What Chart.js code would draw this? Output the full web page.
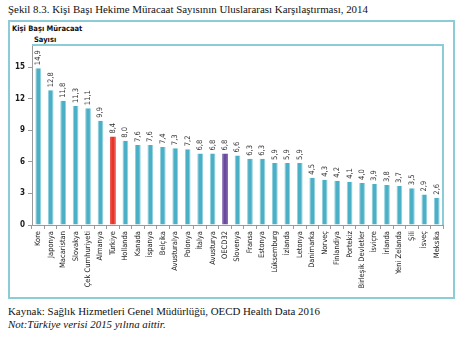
<!DOCTYPE html>
<html lang="tr">
<head>
<meta charset="UTF-8">
<title>Kişi Başı Hekime Müracaat Sayısı</title>
<script src="https://cdn.jsdelivr.net/npm/chart.js"></script>
<style>
    body { margin: 0; background: #fff; width: 464px; height: 337px; position: relative; overflow: hidden; }
    .caption { position: absolute; left: 8px; font-family: "Liberation Serif", serif; font-size: 10.9px; color: #111; white-space: nowrap; }
    .frame { position: absolute; left: 8px; top: 20px; width: 443px; height: 275px; border: 2px solid #8ccbd8; }
    .axis-title { position: absolute; font-family: "DejaVu Sans Condensed", "Liberation Sans", sans-serif; font-size: 7.5px; font-weight: bold; color: #111; white-space: nowrap; }
    #chart-box { position: absolute; left: 8px; top: 20px; width: 446px; height: 278px; }
</style>
</head>
<body>

<div class="caption" style="top: 3px;">Şekil 8.3. Kişi Başı Hekime Müracaat Sayısının Uluslararası Karşılaştırması, 2014</div>
<div class="frame"></div>
<div class="axis-title" style="left: 12px; top: 24px;">Kişi Başı Müracaat</div>
<div class="axis-title" style="left: 34px; top: 35px;">Sayısı</div>

<div id="chart-box"><canvas id="visits"></canvas></div>

<div class="caption" style="top: 305px;">Kaynak: Sağlık Hizmetleri Genel Müdürlüğü, OECD Health Data 2016</div>
<div class="caption" style="top: 318px; font-style: italic;">Not:Türkiye verisi 2015 yılına aittir.</div>

<script>
    const countries = [
        'Kore', 'Japonya', 'Macaristan', 'Slovakya', 'Çek Cumhuriyeti', 'Almanya', 'Türkiye',
        'Hollanda', 'Kanada', 'İspanya', 'Belçika', 'Avusturalya', 'Polonya', 'İtalya',
        'Avusturya', 'OECD32', 'Slovenya', 'Fransa', 'Estonya', 'Lüksemburg', 'İzlanda',
        'Letonya', 'Danimarka', 'Norveç', 'Finlandiya', 'Portekiz', 'Birleşik Devletler',
        'İsviçre', 'İrlanda', 'Yeni Zelanda', 'Şili', 'İsveç', 'Meksika'
    ]
    const visits = [
        14.9, 12.8, 11.8, 11.3, 11.1, 9.9, 8.4,
        8.0, 7.6, 7.6, 7.4, 7.3, 7.2, 6.8,
        6.8, 6.8, 6.6, 6.3, 6.3, 5.9, 5.9,
        5.9, 4.5, 4.3, 4.2, 4.1, 4.0,
        3.9, 3.8, 3.7, 3.5, 2.9, 2.6
    ]
    const yTicks = [0, 3, 6, 9, 12, 15]
    const yMax = 17.1

    const barColor = c => c === 'Türkiye' ? '#e8352c' : (c === 'OECD32' ? '#6a4a9e' : '#4bafc6')

    // value labels, rotated, sitting on top of each bar
    const valueLabels = {
        id: 'valueLabels',
        afterDatasetsDraw(chart) {
            const ctx = chart.ctx
            const bars = chart.getDatasetMeta(0).data
            ctx.save()
            ctx.font = '7.5px "DejaVu Sans Condensed", "Liberation Sans", sans-serif'
            ctx.fillStyle = '#333'
            ctx.textAlign = 'left'
            ctx.textBaseline = 'middle'
            bars.forEach((bar, i) => {
                ctx.save()
                ctx.translate(bar.x, bar.y - 3)
                ctx.rotate(-Math.PI / 2)
                ctx.fillText(visits[i].toFixed(1).replace('.', ','), 0, 0)
                ctx.restore()
            })
            ctx.restore()
        }
    }

    // teal top/right border of the plot area
    const plotFrame = {
        id: 'plotFrame',
        beforeDatasetsDraw(chart) {
            const { ctx, chartArea: a } = chart
            ctx.save()
            ctx.strokeStyle = '#8ccbd8'
            ctx.lineWidth = 2
            ctx.beginPath()
            ctx.moveTo(a.left, a.top)
            ctx.lineTo(a.right, a.top)
            ctx.lineTo(a.right, a.bottom)
            ctx.stroke()
            ctx.restore()
        }
    }

    new Chart(document.getElementById('visits'), {
        type: 'bar',
        data: {
            labels: countries,
            datasets: [{
                data: visits,
                backgroundColor: countries.map(barColor),
                borderColor: countries.map(c => c === 'Türkiye' || c === 'OECD32' ? barColor(c) : '#8fd0de'),
                borderWidth: { left: 1, right: 1, top: 0, bottom: 0 },
                categoryPercentage: 1,
                barPercentage: 0.46
            }]
        },
        options: {
            responsive: true,
            maintainAspectRatio: false,
            animation: false,
            layout: { padding: { top: 25, right: 11, left: 0, bottom: 0 } },
            plugins: { legend: { display: false }, tooltip: { enabled: false } },
            scales: {
                x: {
                    grid: { drawOnChartArea: false, color: '#9a9a9a', tickLength: 4, offset: true },
                    border: { color: '#9a9a9a' },
                    ticks: {
                        minRotation: 90, maxRotation: 90, autoSkip: false, padding: 2,
                        color: '#1a1a1a',
                        font: { family: '"DejaVu Sans Condensed", "Liberation Sans", sans-serif', size: 7.5 }
                    },
                    afterFit(scale) { scale.height = 73 }
                },
                y: {
                    min: 0,
                    max: yMax,
                    grid: { drawOnChartArea: false, color: '#9a9a9a', tickLength: 4 },
                    border: { color: '#9a9a9a' },
                    afterBuildTicks(scale) { scale.ticks = yTicks.map(v => ({ value: v })) },
                    ticks: {
                        padding: 3,
                        color: '#1a1a1a',
                        font: { family: '"DejaVu Sans Condensed", "Liberation Sans", sans-serif', size: 8, weight: 'bold' }
                    },
                    afterFit(scale) { scale.width = 24 }
                }
            }
        },
        plugins: [plotFrame, valueLabels]
    })
</script>
</body>
</html>
